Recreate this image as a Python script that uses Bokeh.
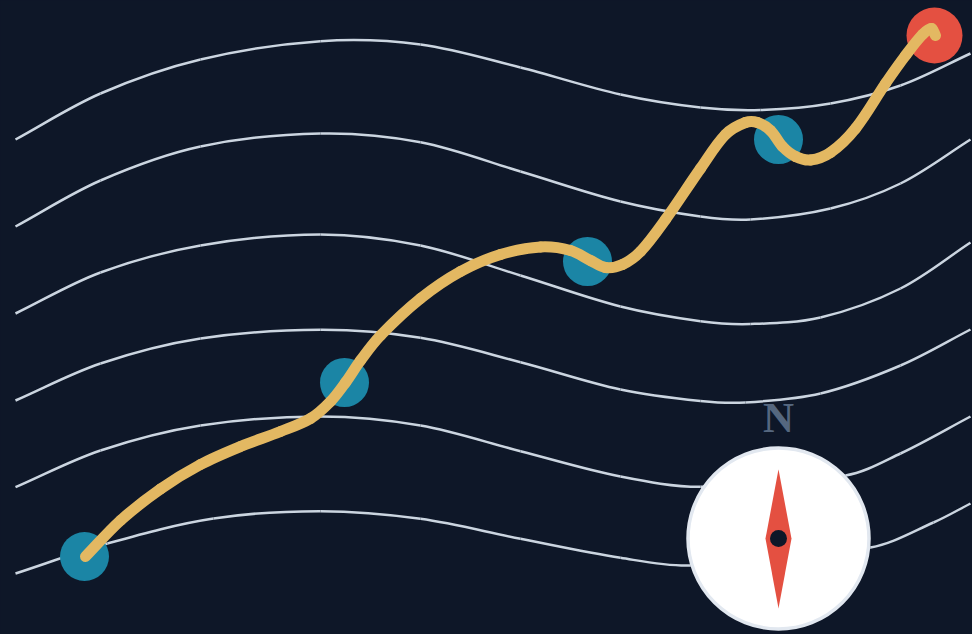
from math import hypot
from bokeh.plotting import figure
from bokeh.embed import file_html
from bokeh.resources import INLINE
from bokeh.core.properties import value

# Contour lines (in page pixels)
c1x = [15,100,200,320,420,520,620,700,760,830,900,970]
c1y = [139,93,59,40.7,44,67,94,107,109.5,103,85,53]
c2x = [15,100,200,320,420,520,620,700,750,830,900,970]
c2y = [226,180,146,133,141.7,171,201,216,219,208,183,139]
c3x = [15,100,200,320,420,520,620,700,750,820,900,970]
c3y = [313,272,245,234,245,275,306,320.7,323.5,317,288,242]
c4x = [15,100,200,320,420,520,620,700,745,820,900,970]
c4y = [400,363,338,329.3,337.3,361.7,389,400.5,402,393,365,329]
c5x = [15,100,200,320,420,520,620,700,845,900,970]
c5y = [486.7,450,425,416,425,450.7,476,486.3,475,453,416]
c6x = [15,107,213,320,420,520,620,690,870,933,970]
c6y = [573,543,518,510.7,518.3,538.3,557.3,565,547,522,503]

route_x = [85,120,160,200,240,280,310,330,345,360,380,420,460,500,540,570,590,605,622,640,665,700,725,745,757,770,782,795,810,830,855,885,905,922,931,935]
route_y = [556,520,488.5,464,446,431,418,401,382,360,335,298,271,254,246.5,250,260,267,264,251,219,168,134,122,122,130,146,156,159.5,152,128,83,55,34,28,35]

stop_x = [84,344,587,778]
stop_y = [556,382,261,139]
end_x = [934]
end_y = [35]

compass_x = [778]
compass_y = [538]
needle_x = [778,791,778,765]
needle_y = [469,538,608,538]
north_label = ["N"]
north_x = [778]
north_y = [417]

BG = "#0e1728"
p = figure(width=972, height=634, x_range=(0,972), y_range=(634,0),
           toolbar_location=None, output_backend="svg",
           background_fill_color=BG, border_fill_color=BG,
           min_border=0, outline_line_color=None)
p.axis.visible = False
p.grid.visible = False


def smooth(xs, ys, **style):
    """Draw a smooth curve passing through every read point."""
    n = len(xs)
    d = [hypot(xs[i + 1] - xs[i], ys[i + 1] - ys[i]) for i in range(n - 1)]
    mx, my = [], []
    for i in range(n):
        a, b = max(i - 1, 0), min(i + 1, n - 1)
        span = sum(d[a:b])
        mx.append((xs[b] - xs[a]) / span)
        my.append((ys[b] - ys[a]) / span)
    x0, y0, x1, y1, cx0, cy0, cx1, cy1 = [], [], [], [], [], [], [], []
    for i in range(n - 1):
        x0.append(xs[i]); y0.append(ys[i]); x1.append(xs[i + 1]); y1.append(ys[i + 1])
        cx0.append(xs[i] + mx[i] * d[i] / 3)
        cy0.append(ys[i] + my[i] * d[i] / 3)
        cx1.append(xs[i + 1] - mx[i + 1] * d[i] / 3)
        cy1.append(ys[i + 1] - my[i + 1] * d[i] / 3)
    p.bezier(x0, y0, x1, y1, cx0, cy0, cx1, cy1, **style)


for xs, ys in [(c1x,c1y),(c2x,c2y),(c3x,c3y),(c4x,c4y),(c5x,c5y),(c6x,c6y)]:
    smooth(xs, ys, line_color="#cbd5e0", line_width=2.5)

p.circle(stop_x, stop_y, radius=24.5, fill_color="#1b85a5", line_color=None)
p.circle(end_x, end_y, radius=28, fill_color="#e45041", line_color=None)
smooth(route_x, route_y, line_color="#e3b862", line_width=11, line_cap="round")
p.circle(compass_x, compass_y, radius=90.5, fill_color="#ffffff",
         line_color="#e2e8f0", line_width=3.5)
p.patch(needle_x, needle_y, fill_color="#e45041", line_color=None)
p.circle(compass_x, compass_y, radius=8.5, fill_color=BG, line_color=None)
p.text(north_x, north_y, text=north_label, text_font=value("Liberation Serif"),
       text_font_style="bold", text_font_size="43px", text_color="#55677f",
       text_align="center", text_baseline="middle")

html = file_html(p, INLINE)
html = html.replace("<body>", f'<body style="margin:0;background:{BG};overflow:hidden">')
open("out.html", "w").write(html)
